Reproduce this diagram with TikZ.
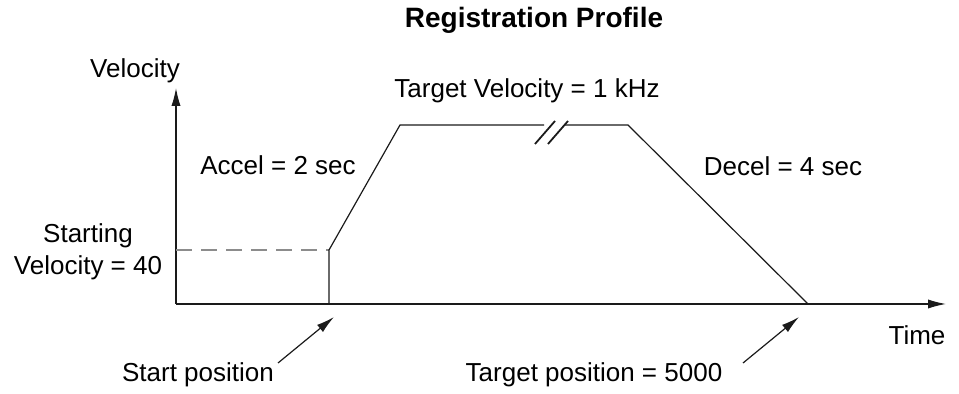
\documentclass[tikz,border=0pt]{standalone}
\usepackage{fontspec}
\setmainfont{Liberation Sans}
\usetikzlibrary{arrows.meta, positioning}
\definecolor{cline}{HTML}{1A1A1A}
\definecolor{cdash}{HTML}{8C8C8C}
\tikzset{
  every picture/.style={font=\fontsize{13}{16}\selectfont, line width=0.6pt},
  axis/.style={-{Latex[length=9pt, width=4.6pt]}, draw=cline},
  pointer/.style={-{Latex[length=9pt, width=4.6pt]}, draw=cline},
  profile/.style={draw=cline},
  startline/.style={draw=cdash, dash pattern=on 8pt off 4.5pt},
  label/.style={align=center, inner sep=0pt, anchor=base},
  title/.style={font=\bfseries\fontsize{14}{17}\selectfont, inner sep=0pt, anchor=base},
}

\begin{document}
\begin{tikzpicture}[x=0.5pt, y=-0.5pt]
  \useasboundingbox (0,0) rectangle (959,394);
  % axes
  \coordinate (origin) at (176,304);
  \coordinate (vtop) at (176,88);
  \coordinate (tend) at (946,304);
  \draw[axis] (origin) -- (vtop);
  \draw[axis] (origin) -- (tend);
  % profile corners
  \coordinate (sp) at (329,304);
  \coordinate (sv) at (329,250);
  \coordinate (acc) at (400,125);
  \coordinate (brk1) at (544,125);
  \coordinate (brk2) at (565,125);
  \coordinate (dec) at (628,125);
  \coordinate (tp) at (808,304);
  \draw[startline] (origin |- sv) -- (sv);
  \draw[profile] (sp) -- (sv) -- (acc) -- (brk1);
  \draw[profile] (brk2) -- (dec) -- (tp);
  % break marks
  \draw[profile, line width=0.9pt] (535,144) -- (555,121);
  \draw[profile, line width=0.9pt] (548,144) -- (568,121);
  % labels
  \node[title] (ttl) at (534,28) {Registration Profile};
  \node[label] (vel) at (135,78) {Velocity};
  \node[label] (time) at (917,345) {Time};
  \node[label] (target) at (527,98) {Target Velocity = 1 kHz};
  \node[label] (accel) at (278,175) {Accel = 2 sec};
  \node[label] (decel) at (783,176) {Decel = 4 sec};
  \node[label] (start) at (88,275) {Starting\\Velocity = 40};
  \node[label] (startpos) at (198,382) {Start position};
  \node[label] (targetpos) at (594,382) {Target position = 5000};
  % pointers
  \coordinate (sptail) at (278,363);
  \coordinate (sptip) at (334,317);
  \coordinate (tptail) at (743,363);
  \coordinate (tptip) at (799,317);
  \draw[pointer] (sptail) -- (sptip);
  \draw[pointer] (tptail) -- (tptip);
\end{tikzpicture}
\end{document}
